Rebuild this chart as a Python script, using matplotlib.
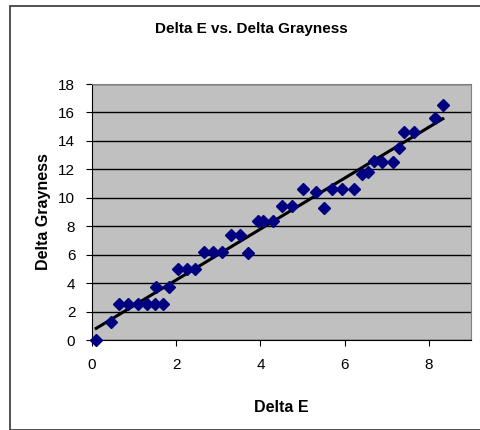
import matplotlib.pyplot as plt
import numpy as np
from matplotlib.patches import Rectangle

# Data
delta_e = [0.10, 0.45, 0.65, 0.85, 1.10, 1.30, 1.50, 1.68, 1.52, 1.82,
           2.05, 2.25, 2.45, 2.67, 2.87, 3.08, 3.30, 3.52, 3.70, 3.94,
           4.05, 4.30, 4.52, 4.74, 5.02, 5.32, 5.50, 5.69, 5.94, 6.22,
           6.40, 6.56, 6.69, 6.89, 7.14, 7.29, 7.41, 7.64, 8.14, 8.33]
delta_gray = [0.0, 1.25, 2.5, 2.5, 2.5, 2.5, 2.5, 2.5, 3.75, 3.75,
              5.0, 5.0, 5.0, 6.2, 6.2, 6.2, 7.4, 7.4, 6.1, 8.35,
              8.35, 8.35, 9.45, 9.45, 10.6, 10.4, 9.3, 10.6, 10.6, 10.6,
              11.7, 11.8, 12.6, 12.55, 12.55, 13.5, 14.6, 14.6, 15.6, 16.5]
x_ticks = [0, 2, 4, 6, 8]
y_ticks = [0, 2, 4, 6, 8, 10, 12, 14, 16, 18]

plt.rcParams['font.family'] = ['Liberation Sans', 'DejaVu Sans']

fig = plt.figure(figsize=(4.8, 4.3), dpi=100)
fig.patches.append(Rectangle((10 / 480, 0.5 / 430), 1.0, 424 / 430,
                             transform=fig.transFigure, fill=False,
                             edgecolor='#333333', linewidth=1.2))

ax = fig.add_axes([92 / 480, 90 / 430, 379 / 480, 256 / 430])
ax.set_facecolor('#c0c0c0')

# Linear trendline
k, b = np.polyfit(delta_e, delta_gray, 1)
xs = np.array([min(delta_e), max(delta_e)])
ax.plot(xs, k * xs + b, color='black', linewidth=2.2, zorder=2)

ax.plot(delta_e, delta_gray, linestyle='none', marker='D', markersize=6.5,
        color='#000080', zorder=3, clip_on=False)

ax.set_xlim(0, 9)
ax.set_ylim(0, 18)
ax.set_xticks(x_ticks)
ax.set_yticks(y_ticks)
ax.tick_params(labelsize=11, length=4, direction='out', color='black')
ax.tick_params(axis='x', pad=9)
ax.tick_params(axis='y', pad=8)
ax.yaxis.grid(True, color='black', linewidth=1)
ax.set_axisbelow(True)

for side in ['top', 'right']:
    ax.spines[side].set_color('#808080')
for side in ['left', 'bottom']:
    ax.spines[side].set_color('black')

ax.set_xlabel('Delta E', fontsize=11.5, fontweight='bold', labelpad=20)
ax.set_ylabel('Delta Grayness', fontsize=11.5, fontweight='bold', labelpad=5)
fig.text(251 / 480, 1 - 29 / 430, 'Delta E vs. Delta Grayness', fontsize=11,
         fontweight='bold', ha='center', va='center')

fig.savefig('out.png', dpi=100)
